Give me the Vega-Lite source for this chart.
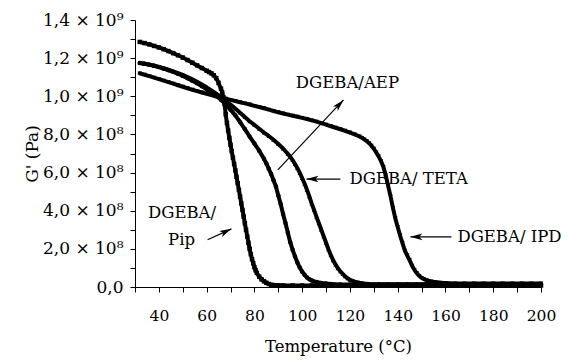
{
  "$schema": "https://vega.github.io/schema/vega-lite/v6.json",
  "width": 406,
  "height": 267,
  "autosize": {"type": "none"},
  "padding": {"left": 135, "top": 20, "right": 30, "bottom": 74},
  "background": "white",
  "config": {
    "view": {"stroke": null},
    "font": "DejaVu Serif",
    "axis": {"grid": false, "domainColor": "black", "tickColor": "black", "labelColor": "black", "titleColor": "black", "titleFontWeight": "normal", "labelFont": "DejaVu Serif", "titleFont": "DejaVu Serif", "labelOverlap": false, "labelFlush": false, "tickSize": 5, "domainWidth": 1, "tickWidth": 1}
  },
  "datasets": {
    "curves": [
      {"s":"Pip","T":32,"G":1.285e9},{"s":"Pip","T":34,"G":1.279e9},{"s":"Pip","T":36,"G":1.272e9},{"s":"Pip","T":38,"G":1.264e9},{"s":"Pip","T":40,"G":1.256e9},{"s":"Pip","T":42,"G":1.247e9},{"s":"Pip","T":44,"G":1.237e9},{"s":"Pip","T":46,"G":1.226e9},{"s":"Pip","T":48,"G":1.215e9},{"s":"Pip","T":50,"G":1.203e9},{"s":"Pip","T":52,"G":1.19e9},{"s":"Pip","T":54,"G":1.176e9},{"s":"Pip","T":56,"G":1.162e9},{"s":"Pip","T":58,"G":1.148e9},{"s":"Pip","T":60,"G":1.134e9},{"s":"Pip","T":61,"G":1.127e9},{"s":"Pip","T":62,"G":1.12e9},{"s":"Pip","T":63,"G":1.11e9},{"s":"Pip","T":64,"G":1.095e9},{"s":"Pip","T":65,"G":1.07e9},{"s":"Pip","T":66,"G":1.04e9},{"s":"Pip","T":66.5,"G":1.02e9},{"s":"Pip","T":67,"G":0.995e9},{"s":"Pip","T":67.5,"G":0.96e9},{"s":"Pip","T":68,"G":0.905e9},{"s":"Pip","T":68.5,"G":0.86e9},{"s":"Pip","T":69,"G":0.82e9},{"s":"Pip","T":69.5,"G":0.782e9},{"s":"Pip","T":70,"G":0.746e9},{"s":"Pip","T":70.5,"G":0.712e9},{"s":"Pip","T":71,"G":0.678e9},{"s":"Pip","T":71.5,"G":0.645e9},{"s":"Pip","T":72,"G":0.612e9},{"s":"Pip","T":72.5,"G":0.578e9},{"s":"Pip","T":73,"G":0.544e9},{"s":"Pip","T":73.5,"G":0.509e9},{"s":"Pip","T":74,"G":0.474e9},{"s":"Pip","T":74.5,"G":0.439e9},{"s":"Pip","T":75,"G":0.404e9},{"s":"Pip","T":75.5,"G":0.369e9},{"s":"Pip","T":76,"G":0.334e9},{"s":"Pip","T":76.5,"G":0.3e9},{"s":"Pip","T":77,"G":0.265e9},{"s":"Pip","T":77.5,"G":0.232e9},{"s":"Pip","T":78,"G":0.2e9},{"s":"Pip","T":78.5,"G":0.172e9},{"s":"Pip","T":79,"G":0.146e9},{"s":"Pip","T":79.5,"G":0.124e9},{"s":"Pip","T":80,"G":0.104e9},{"s":"Pip","T":80.5,"G":0.088e9},{"s":"Pip","T":81,"G":0.074e9},{"s":"Pip","T":82,"G":0.054e9},{"s":"Pip","T":83,"G":0.04e9},{"s":"Pip","T":84,"G":0.03e9},{"s":"Pip","T":85,"G":0.022e9},{"s":"Pip","T":86,"G":0.016e9},{"s":"Pip","T":87,"G":0.012e9},{"s":"Pip","T":88,"G":0.01e9},{"s":"Pip","T":90,"G":0.009e9},{"s":"Pip","T":92,"G":0.008e9},{"s":"Pip","T":96,"G":0.008e9},{"s":"Pip","T":100,"G":0.008e9},{"s":"Pip","T":104,"G":0.008e9},{"s":"Pip","T":108,"G":0.008e9},{"s":"Pip","T":112,"G":0.008e9},{"s":"Pip","T":116,"G":0.008e9},{"s":"Pip","T":120,"G":0.008e9},{"s":"Pip","T":124,"G":0.008e9},{"s":"Pip","T":128,"G":0.008e9},{"s":"Pip","T":132,"G":0.008e9},{"s":"Pip","T":136,"G":0.008e9},{"s":"Pip","T":140,"G":0.008e9},{"s":"Pip","T":144,"G":0.008e9},{"s":"Pip","T":148,"G":0.008e9},{"s":"Pip","T":152,"G":0.008e9},{"s":"Pip","T":156,"G":0.008e9},{"s":"Pip","T":160,"G":0.008e9},{"s":"Pip","T":164,"G":0.008e9},{"s":"Pip","T":168,"G":0.008e9},{"s":"Pip","T":172,"G":0.008e9},{"s":"Pip","T":176,"G":0.008e9},{"s":"Pip","T":180,"G":0.008e9},{"s":"Pip","T":184,"G":0.008e9},{"s":"Pip","T":188,"G":0.008e9},{"s":"Pip","T":192,"G":0.008e9},{"s":"Pip","T":196,"G":0.008e9},{"s":"Pip","T":200,"G":0.008e9},

      {"s":"AEP","T":32,"G":1.175e9},{"s":"AEP","T":34,"G":1.171e9},{"s":"AEP","T":36,"G":1.166e9},{"s":"AEP","T":38,"G":1.16e9},{"s":"AEP","T":40,"G":1.153e9},{"s":"AEP","T":42,"G":1.145e9},{"s":"AEP","T":44,"G":1.137e9},{"s":"AEP","T":46,"G":1.128e9},{"s":"AEP","T":48,"G":1.118e9},{"s":"AEP","T":50,"G":1.107e9},{"s":"AEP","T":52,"G":1.095e9},{"s":"AEP","T":54,"G":1.082e9},{"s":"AEP","T":56,"G":1.068e9},{"s":"AEP","T":58,"G":1.053e9},{"s":"AEP","T":60,"G":1.037e9},{"s":"AEP","T":62,"G":1.02e9},{"s":"AEP","T":64,"G":1.002e9},{"s":"AEP","T":66,"G":0.982e9},{"s":"AEP","T":68,"G":0.958e9},{"s":"AEP","T":70,"G":0.93e9},{"s":"AEP","T":72,"G":0.9e9},{"s":"AEP","T":74,"G":0.865e9},{"s":"AEP","T":76,"G":0.828e9},{"s":"AEP","T":78,"G":0.789e9},{"s":"AEP","T":80,"G":0.752e9},{"s":"AEP","T":82,"G":0.715e9},{"s":"AEP","T":84,"G":0.672e9},{"s":"AEP","T":85,"G":0.648e9},{"s":"AEP","T":86,"G":0.62e9},{"s":"AEP","T":87,"G":0.592e9},{"s":"AEP","T":88,"G":0.56e9},{"s":"AEP","T":89,"G":0.527e9},{"s":"AEP","T":90,"G":0.48e9},{"s":"AEP","T":91,"G":0.435e9},{"s":"AEP","T":92,"G":0.383e9},{"s":"AEP","T":93,"G":0.335e9},{"s":"AEP","T":94,"G":0.285e9},{"s":"AEP","T":95,"G":0.235e9},{"s":"AEP","T":96,"G":0.195e9},{"s":"AEP","T":97,"G":0.16e9},{"s":"AEP","T":98,"G":0.128e9},{"s":"AEP","T":99,"G":0.102e9},{"s":"AEP","T":100,"G":0.08e9},{"s":"AEP","T":101,"G":0.064e9},{"s":"AEP","T":102,"G":0.05e9},{"s":"AEP","T":103,"G":0.041e9},{"s":"AEP","T":104,"G":0.034e9},{"s":"AEP","T":106,"G":0.026e9},{"s":"AEP","T":108,"G":0.021e9},{"s":"AEP","T":110,"G":0.018e9},{"s":"AEP","T":112,"G":0.016e9},{"s":"AEP","T":116,"G":0.013e9},{"s":"AEP","T":120,"G":0.013e9},{"s":"AEP","T":124,"G":0.013e9},{"s":"AEP","T":128,"G":0.013e9},{"s":"AEP","T":132,"G":0.013e9},{"s":"AEP","T":136,"G":0.013e9},{"s":"AEP","T":140,"G":0.013e9},{"s":"AEP","T":144,"G":0.013e9},{"s":"AEP","T":148,"G":0.013e9},{"s":"AEP","T":152,"G":0.013e9},{"s":"AEP","T":156,"G":0.013e9},{"s":"AEP","T":160,"G":0.013e9},{"s":"AEP","T":164,"G":0.013e9},{"s":"AEP","T":168,"G":0.013e9},{"s":"AEP","T":172,"G":0.013e9},{"s":"AEP","T":176,"G":0.013e9},{"s":"AEP","T":180,"G":0.013e9},{"s":"AEP","T":184,"G":0.013e9},{"s":"AEP","T":188,"G":0.013e9},{"s":"AEP","T":192,"G":0.013e9},{"s":"AEP","T":196,"G":0.013e9},{"s":"AEP","T":200,"G":0.013e9},

      {"s":"TETA","T":32,"G":1.175e9},{"s":"TETA","T":34,"G":1.171e9},{"s":"TETA","T":36,"G":1.166e9},{"s":"TETA","T":38,"G":1.16e9},{"s":"TETA","T":40,"G":1.154e9},{"s":"TETA","T":42,"G":1.147e9},{"s":"TETA","T":44,"G":1.139e9},{"s":"TETA","T":46,"G":1.131e9},{"s":"TETA","T":48,"G":1.122e9},{"s":"TETA","T":50,"G":1.112e9},{"s":"TETA","T":52,"G":1.101e9},{"s":"TETA","T":54,"G":1.089e9},{"s":"TETA","T":56,"G":1.076e9},{"s":"TETA","T":58,"G":1.062e9},{"s":"TETA","T":60,"G":1.047e9},{"s":"TETA","T":62,"G":1.031e9},{"s":"TETA","T":64,"G":1.014e9},{"s":"TETA","T":66,"G":0.996e9},{"s":"TETA","T":68,"G":0.977e9},{"s":"TETA","T":70,"G":0.957e9},{"s":"TETA","T":72,"G":0.936e9},{"s":"TETA","T":74,"G":0.914e9},{"s":"TETA","T":76,"G":0.891e9},{"s":"TETA","T":78,"G":0.869e9},{"s":"TETA","T":80,"G":0.85e9},{"s":"TETA","T":82,"G":0.83e9},{"s":"TETA","T":84,"G":0.81e9},{"s":"TETA","T":86,"G":0.792e9},{"s":"TETA","T":88,"G":0.772e9},{"s":"TETA","T":90,"G":0.75e9},{"s":"TETA","T":92,"G":0.726e9},{"s":"TETA","T":94,"G":0.698e9},{"s":"TETA","T":95,"G":0.683e9},{"s":"TETA","T":96,"G":0.665e9},{"s":"TETA","T":97,"G":0.645e9},{"s":"TETA","T":98,"G":0.623e9},{"s":"TETA","T":99,"G":0.598e9},{"s":"TETA","T":100,"G":0.571e9},{"s":"TETA","T":101,"G":0.543e9},{"s":"TETA","T":102,"G":0.51e9},{"s":"TETA","T":103,"G":0.475e9},{"s":"TETA","T":104,"G":0.437e9},{"s":"TETA","T":105,"G":0.403e9},{"s":"TETA","T":106,"G":0.368e9},{"s":"TETA","T":107,"G":0.334e9},{"s":"TETA","T":108,"G":0.3e9},{"s":"TETA","T":109,"G":0.266e9},{"s":"TETA","T":110,"G":0.232e9},{"s":"TETA","T":111,"G":0.198e9},{"s":"TETA","T":112,"G":0.167e9},{"s":"TETA","T":113,"G":0.14e9},{"s":"TETA","T":114,"G":0.117e9},{"s":"TETA","T":115,"G":0.098e9},{"s":"TETA","T":116,"G":0.082e9},{"s":"TETA","T":117,"G":0.068e9},{"s":"TETA","T":118,"G":0.056e9},{"s":"TETA","T":119,"G":0.046e9},{"s":"TETA","T":120,"G":0.038e9},{"s":"TETA","T":122,"G":0.028e9},{"s":"TETA","T":124,"G":0.022e9},{"s":"TETA","T":126,"G":0.018e9},{"s":"TETA","T":128,"G":0.016e9},{"s":"TETA","T":132,"G":0.015e9},{"s":"TETA","T":136,"G":0.015e9},{"s":"TETA","T":140,"G":0.015e9},{"s":"TETA","T":144,"G":0.015e9},{"s":"TETA","T":148,"G":0.015e9},{"s":"TETA","T":152,"G":0.015e9},{"s":"TETA","T":156,"G":0.015e9},{"s":"TETA","T":160,"G":0.015e9},{"s":"TETA","T":164,"G":0.015e9},{"s":"TETA","T":168,"G":0.015e9},{"s":"TETA","T":172,"G":0.015e9},{"s":"TETA","T":176,"G":0.015e9},{"s":"TETA","T":180,"G":0.015e9},{"s":"TETA","T":184,"G":0.015e9},{"s":"TETA","T":188,"G":0.015e9},{"s":"TETA","T":192,"G":0.015e9},{"s":"TETA","T":196,"G":0.015e9},{"s":"TETA","T":200,"G":0.015e9},

      {"s":"IPD","T":32,"G":1.12e9},{"s":"IPD","T":34,"G":1.113e9},{"s":"IPD","T":36,"G":1.106e9},{"s":"IPD","T":38,"G":1.098e9},{"s":"IPD","T":40,"G":1.09e9},{"s":"IPD","T":42,"G":1.082e9},{"s":"IPD","T":44,"G":1.074e9},{"s":"IPD","T":46,"G":1.066e9},{"s":"IPD","T":48,"G":1.058e9},{"s":"IPD","T":50,"G":1.05e9},{"s":"IPD","T":52,"G":1.042e9},{"s":"IPD","T":54,"G":1.034e9},{"s":"IPD","T":56,"G":1.027e9},{"s":"IPD","T":58,"G":1.02e9},{"s":"IPD","T":60,"G":1.013e9},{"s":"IPD","T":62,"G":1.006e9},{"s":"IPD","T":64,"G":0.999e9},{"s":"IPD","T":66,"G":0.993e9},{"s":"IPD","T":68,"G":0.987e9},{"s":"IPD","T":70,"G":0.981e9},{"s":"IPD","T":72,"G":0.975e9},{"s":"IPD","T":74,"G":0.969e9},{"s":"IPD","T":76,"G":0.963e9},{"s":"IPD","T":78,"G":0.957e9},{"s":"IPD","T":80,"G":0.95e9},{"s":"IPD","T":82,"G":0.944e9},{"s":"IPD","T":84,"G":0.937e9},{"s":"IPD","T":86,"G":0.93e9},{"s":"IPD","T":88,"G":0.923e9},{"s":"IPD","T":90,"G":0.916e9},{"s":"IPD","T":92,"G":0.91e9},{"s":"IPD","T":94,"G":0.904e9},{"s":"IPD","T":96,"G":0.898e9},{"s":"IPD","T":98,"G":0.893e9},{"s":"IPD","T":100,"G":0.887e9},{"s":"IPD","T":102,"G":0.881e9},{"s":"IPD","T":104,"G":0.874e9},{"s":"IPD","T":106,"G":0.867e9},{"s":"IPD","T":108,"G":0.859e9},{"s":"IPD","T":110,"G":0.851e9},{"s":"IPD","T":112,"G":0.843e9},{"s":"IPD","T":114,"G":0.835e9},{"s":"IPD","T":116,"G":0.827e9},{"s":"IPD","T":118,"G":0.819e9},{"s":"IPD","T":120,"G":0.81e9},{"s":"IPD","T":122,"G":0.8e9},{"s":"IPD","T":124,"G":0.789e9},{"s":"IPD","T":125,"G":0.782e9},{"s":"IPD","T":126,"G":0.774e9},{"s":"IPD","T":127,"G":0.765e9},{"s":"IPD","T":128,"G":0.754e9},{"s":"IPD","T":129,"G":0.741e9},{"s":"IPD","T":130,"G":0.725e9},{"s":"IPD","T":131,"G":0.706e9},{"s":"IPD","T":132,"G":0.685e9},{"s":"IPD","T":133,"G":0.66e9},{"s":"IPD","T":134,"G":0.63e9},{"s":"IPD","T":135,"G":0.585e9},{"s":"IPD","T":136,"G":0.53e9},{"s":"IPD","T":137,"G":0.475e9},{"s":"IPD","T":138,"G":0.415e9},{"s":"IPD","T":139,"G":0.36e9},{"s":"IPD","T":140,"G":0.315e9},{"s":"IPD","T":141,"G":0.27e9},{"s":"IPD","T":142,"G":0.23e9},{"s":"IPD","T":143,"G":0.19e9},{"s":"IPD","T":144,"G":0.165e9},{"s":"IPD","T":145,"G":0.14e9},{"s":"IPD","T":146,"G":0.112e9},{"s":"IPD","T":147,"G":0.09e9},{"s":"IPD","T":148,"G":0.072e9},{"s":"IPD","T":149,"G":0.058e9},{"s":"IPD","T":150,"G":0.048e9},{"s":"IPD","T":151,"G":0.041e9},{"s":"IPD","T":152,"G":0.036e9},{"s":"IPD","T":154,"G":0.029e9},{"s":"IPD","T":156,"G":0.025e9},{"s":"IPD","T":158,"G":0.022e9},{"s":"IPD","T":160,"G":0.021e9},{"s":"IPD","T":164,"G":0.019e9},{"s":"IPD","T":168,"G":0.019e9},{"s":"IPD","T":172,"G":0.019e9},{"s":"IPD","T":176,"G":0.019e9},{"s":"IPD","T":180,"G":0.019e9},{"s":"IPD","T":184,"G":0.019e9},{"s":"IPD","T":188,"G":0.019e9},{"s":"IPD","T":192,"G":0.019e9},{"s":"IPD","T":196,"G":0.019e9},{"s":"IPD","T":200,"G":0.019e9}
    ],
    "labelsCenter": [
      {"txt":"DGEBA/AEP","T":118.95,"G":1.07e9},
      {"txt":"DGEBA/","T":49.7,"G":0.389e9},
      {"txt":"Pip","T":49.5,"G":0.248e9}
    ],
    "labelsLeft": [
      {"txt":"DGEBA/ TETA","T":119.8,"G":0.566e9},
      {"txt":"DGEBA/ IPD","T":165.0,"G":0.263e9}
    ],
    "arrows": [
      {"a":"AEP","T":89.8,"G":0.614e9,"T2":117.3,"G2":0.981e9},
      {"a":"TETA","T":116.0,"G":0.566e9,"T2":101.8,"G2":0.566e9},
      {"a":"IPD","T":162.5,"G":0.263e9,"T2":145.3,"G2":0.263e9},
      {"a":"Pip","T":60.4,"G":0.248e9,"T2":70.4,"G2":0.305e9}
    ]
  },
  "encoding": {
    "x": {"field": "T", "type": "quantitative", "scale": {"domain": [30, 200], "nice": false, "zero": false},
      "axis": {"title": "Temperature (°C)", "values": [30,40,50,60,70,80,90,100,110,120,130,140,150,160,170,180,190,200],
        "labelExpr": "datum.value % 20 == 0 && datum.value >= 40 ? datum.label : ''",
        "labelFontSize": 15.5, "titleFontSize": 16.5, "labelPadding": 16, "titlePadding": 15}},
    "y": {"field": "G", "type": "quantitative", "scale": {"domain": [0, 1.4e9], "nice": false},
      "axis": {"title": "G' (Pa)", "values": [0,1e8,2e8,3e8,4e8,5e8,6e8,7e8,8e8,9e8,1e9,1.1e9,1.2e9,1.3e9,1.4e9],
        "labelExpr": "datum.value == 0 ? '0,0' : (round(datum.value/1e8) % 2 == 1 ? '' : (datum.value >= 0.99e9 ? replace(format(datum.value/1e9, '.1f'), '.', ',') + ' × 10⁹' : replace(format(datum.value/1e8, '.1f'), '.', ',') + ' × 10⁸'))",
        "labelFontSize": 17, "titleFontSize": 17, "labelPadding": 7, "titlePadding": 1}}
  },
  "layer": [
    {
      "data": {"name": "curves"},
      "mark": {"type": "line", "color": "black", "strokeWidth": 4, "strokeJoin": "round", "strokeCap": "round"},
      "encoding": {"detail": {"field": "s"}}
    },
    {
      "data": {"name": "curves"},
      "mark": {"type": "point", "filled": true, "color": "black", "size": 20, "opacity": 1},
      "encoding": {"shape": {"field": "s", "type": "nominal", "scale": {"domain": ["Pip","AEP","TETA","IPD"], "range": ["square","circle","triangle-up","triangle-down"]}, "legend": null}}
    },
    {
      "data": {"name": "labelsCenter"},
      "mark": {"type": "text", "font": "DejaVu Serif", "fontSize": 16.5, "align": "center", "baseline": "middle", "color": "black"},
      "encoding": {"text": {"field": "txt"}}
    },
    {
      "data": {"name": "labelsLeft"},
      "mark": {"type": "text", "font": "DejaVu Serif", "fontSize": 16.5, "align": "left", "baseline": "middle", "color": "black"},
      "encoding": {"text": {"field": "txt"}}
    },
    {
      "data": {"name": "arrows"},
      "mark": {"type": "rule", "color": "black", "strokeWidth": 1.2},
      "encoding": {"x2": {"field": "T2"}, "y2": {"field": "G2"}}
    },
    {
      "data": {"name": "arrows"},
      "transform": [{"filter": "datum.a == 'TETA' || datum.a == 'IPD'"}],
      "mark": {"type": "point", "shape": "M0,0L0.55,2L0,1.5L-0.55,2Z", "filled": true, "color": "black", "size": 144, "angle": 270, "opacity": 1},
      "encoding": {"x": {"field": "T2", "type": "quantitative"}, "y": {"field": "G2", "type": "quantitative"}}
    },
    {
      "data": {"name": "arrows"},
      "transform": [{"filter": "datum.a == 'AEP'"}],
      "mark": {"type": "point", "shape": "M0,0L0.55,2L0,1.5L-0.55,2Z", "filled": true, "color": "black", "size": 144, "angle": 43, "opacity": 1},
      "encoding": {"x": {"field": "T2", "type": "quantitative"}, "y": {"field": "G2", "type": "quantitative"}}
    },
    {
      "data": {"name": "arrows"},
      "transform": [{"filter": "datum.a == 'Pip'"}],
      "mark": {"type": "point", "shape": "M0,0L0.55,2L0,1.5L-0.55,2Z", "filled": true, "color": "black", "size": 144, "angle": 65, "opacity": 1},
      "encoding": {"x": {"field": "T2", "type": "quantitative"}, "y": {"field": "G2", "type": "quantitative"}}
    }
  ]
}
